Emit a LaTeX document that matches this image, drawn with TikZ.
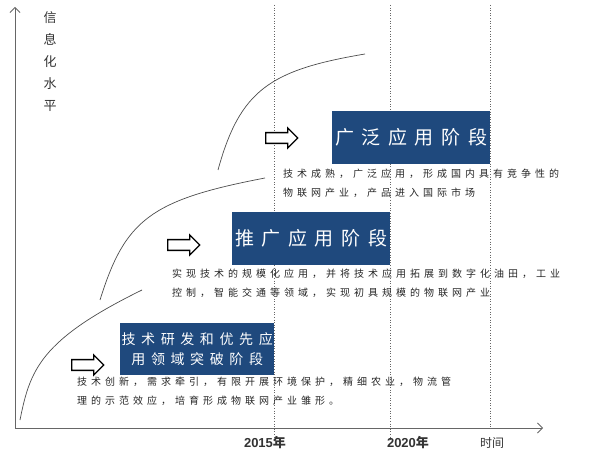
\documentclass[tikz,border=0pt]{standalone}
\usepackage{fontspec}
\setmainfont{Liberation Sans}
\newfontfamily\cjk{Noto Sans CJK SC}
\newfontfamily\cjkwide[LetterSpace=40]{Noto Sans CJK SC}
\usetikzlibrary{arrows.meta,shapes.arrows}
\definecolor{stageblue}{RGB}{31,73,125}
\tikzset{
  stage/.style={fill=stageblue, text=white, inner sep=0pt, anchor=north west, font=\cjk},
  desc/.style={anchor=north west, align=left, inner sep=0pt, font=\cjkwide\fontsize{10}{19}\selectfont, text=black!85},
  nextstage/.style={single arrow, draw=black, line width=1.3pt, fill=white, minimum height=32pt, minimum width=20pt, single arrow head extend=4pt, inner sep=4pt},
  growth/.style={black!70, line width=0.7pt},
  year/.style={dotted, black!60, line width=0.6pt}
}
\begin{document}
\begin{tikzpicture}[x=1pt, y=-1pt]
    \useasboundingbox (0,0) rectangle (600,454);
    % time marks
    \draw[year] (274,5) -- (274,440);
    \draw[year] (390,5) -- (390,440);
    \draw[year] (490,5) -- (490,427);
    % axes
    \draw[black!60, line width=0.8pt, -{Straight Barb[length=5pt]}] (15,428) -- (543,428);
    \draw[black!60, line width=0.8pt, -{Straight Barb[length=5pt]}] (15,428) -- (15,7);
    \node[font=\cjk\fontsize{13}{22}\selectfont, align=center, anchor=north, text=black!80] (ylab) at (50,8) {信\\息\\化\\水\\平};
    \node[font=\bfseries\fontsize{13}{14}\selectfont, text=black!80] (y2015) at (265,443) {2015\cjk 年};
    \node[font=\bfseries\fontsize{13}{14}\selectfont, text=black!80] (y2020) at (408,443) {2020\cjk 年};
    \node[font=\cjk\fontsize{12}{14}\selectfont, text=black!80] (ytime) at (492,443) {时间};
    % growth curves
    \draw[growth] (20,420) .. controls (30,370) and (40,340) .. (142,290);
    \draw[growth] (100,300) .. controls (125,220) and (150,200) .. (265,178);
    \draw[growth] (218,170) .. controls (240,90) and (270,70) .. (365,54);
    % stages
    \node[stage, minimum width=154pt, minimum height=52pt, align=center, font=\cjkwide\fontsize{14}{20}\selectfont] (s1) at (120,323) {技术研发和优先应\\用领域突破阶段};
    \node[stage, minimum width=158pt, minimum height=53pt, font=\cjkwide\fontsize{19}{20}\selectfont] (s2) at (232,212) {推广应用阶段};
    \node[stage, minimum width=158pt, minimum height=53pt, font=\cjkwide\fontsize{19}{20}\selectfont] (s3) at (332,111) {广泛应用阶段};
    \node[nextstage] (a1) at (85,365) {};
    \node[nextstage] (a2) at (181,245) {};
    \node[nextstage] (a3) at (279,138) {};
    \node[desc] (d1) at (77,377) {技术创新，需求牵引，有限开展环境保护，精细农业，物流管\\理的示范效应，培育形成物联网产业雏形。};
    \node[desc] (d2) at (172,269) {实现技术的规模化应用，并将技术应用拓展到数字化油田，工业\\控制，智能交通等领域，实现初具规模的物联网产业};
    \node[desc] (d3) at (283,169) {技术成熟，广泛应用，形成国内具有竞争性的\\物联网产业，产品进入国际市场};
\end{tikzpicture}
\end{document}
